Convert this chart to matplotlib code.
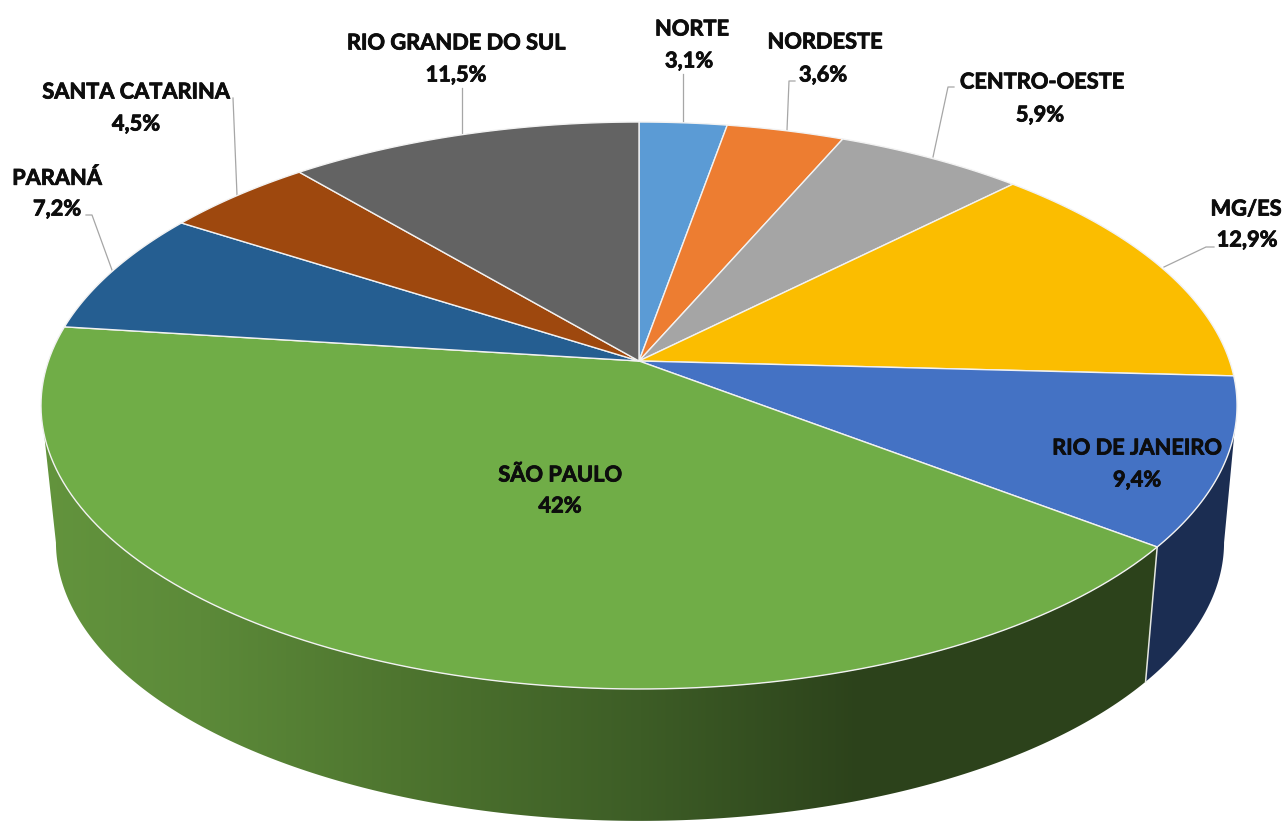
import numpy as np
import matplotlib
matplotlib.use("Agg")
import matplotlib.pyplot as plt
import matplotlib.patheffects as pe
from matplotlib.patches import Polygon
plt.rcParams['font.family'] = ['Lato', 'DejaVu Sans']

regions = ["NORTE", "NORDESTE", "CENTRO-OESTE", "MG/ES", "RIO DE JANEIRO",
           "SÃO PAULO", "PARANÁ", "SANTA CATARINA", "RIO GRANDE DO SUL"]
printed = ["3,1%", "3,6%", "5,9%", "12,9%", "9,4%", "42%", "7,2%", "4,5%", "11,5%"]
# slice widths as they measure in the picture, a little off the printed labels
shares = [2.76, 3.70, 5.96, 13.43, 9.56, 41.6, 7.1, 4.75, 11.14]
colors = ["#5B9BD5", "#ED7D31", "#A5A5A5", "#FBBD00", "#4472C4",
          "#70AD47", "#255E91", "#9E480E", "#636363"]

# label centres, pixels
name_xy = [(692, 29), (825, 42), (1042, 82), (1246, 209), (1137, 448),
           (560, 475), (57, 178), (136, 92), (456, 43)]
pct_xy = [(689, 61), (823, 75), (1040, 115), (1247, 240), (1137, 480),
          (560, 506), (57, 209), (136, 124), (456, 75)]
leaders = [[(683, 74), (683, 123)],
           [(795, 81), (789, 81), (787, 130)],
           [(954, 87), (948, 87), (933, 157)],
           [(1214, 247), (1206, 247), (1164, 267)],
           None, None,
           [(86, 215), (92, 215), (112, 270)],
           [(233, 98), (237, 195)],
           [(462, 88), (462, 133)]]


def top_rim(deg):
    # circle seen in perspective, the pie centre is not the ellipse centre
    t = np.radians(deg)
    u, v = np.sin(t), np.cos(t)
    w = 1 + 0.157 * v
    return 639 + 590.6 * u / w, 361 - 276.5 * v / w


def bottom_rim(deg):
    t = np.radians(deg)
    u, v = np.sin(t), np.cos(t)
    w = 1 + 0.155 * v
    return 640 + 577 * u / w, 499 - 272 * v / w


def side_poly(a, b):
    deg = np.linspace(a, b, 200)
    x1, y1 = top_rim(deg)
    x2, y2 = bottom_rim(deg[::-1])
    return np.column_stack([np.r_[x1, x2], np.r_[y1, y2]])


fig = plt.figure(figsize=(12.87, 8.21), dpi=100)
ax = fig.add_axes([0, 0, 1, 1])
ax.set_xlim(0, 1287)
ax.set_ylim(821, 0)
ax.axis("off")

edges = np.r_[0, np.cumsum(shares)] / np.sum(shares) * 360
left_edge = 261
right_edge = 99

# sides, only rio and sao paulo are on the visible part
rio_end = edges[5]
ax.add_patch(Polygon(side_poly(right_edge, rio_end), fc="#1B2D52", ec="none", zorder=1))

grad_x = [40, 200, 400, 640, 860, 1160]
grad_r = [99, 92, 78, 61, 44, 44]
grad_g = [148, 138, 117, 93, 66, 66]
grad_b = [61, 57, 47, 38, 27, 27]
xs = np.arange(0, 1287)
img = np.stack([np.interp(xs, grad_x, grad_r), np.interp(xs, grad_x, grad_g),
                np.interp(xs, grad_x, grad_b)], axis=-1)[None, :, :] / 255
im = ax.imshow(img, extent=(0, 1287, 821, 0), aspect="auto", zorder=1.5)
clip = Polygon(side_poly(rio_end, left_edge), fc="none", ec="none", transform=ax.transData)
ax.add_patch(clip)
im.set_clip_path(clip)
ax.set_xlim(0, 1287)
ax.set_ylim(821, 0)

# white line between the two side faces
ex, ey = top_rim(rio_end)
fx, fy = bottom_rim(rio_end)
ax.plot([ex, fx], [ey, fy], color="#E4E6E0", lw=1.1, zorder=2)

# top face
for i in range(len(shares)):
    deg = np.linspace(edges[i], edges[i + 1], 120)
    x, y = top_rim(deg)
    pts = np.column_stack([np.r_[639, x], np.r_[361, y]])
    ax.add_patch(Polygon(pts, closed=True, fc=colors[i], ec="#F2F2F2", lw=1.0,
                         joinstyle="round", zorder=3))

for line in leaders:
    if line is None:
        continue
    ax.plot([p[0] for p in line], [p[1] for p in line], color="#A6A6A6", lw=0.9, zorder=2.5)

heavy = [pe.withStroke(linewidth=0.6, foreground="#0D0D0D")]
for i in range(len(regions)):
    ax.text(name_xy[i][0], name_xy[i][1], regions[i], ha="center", va="center",
            fontsize=15.7, fontweight="bold", color="#0D0D0D", zorder=5, path_effects=heavy)
    ax.text(pct_xy[i][0], pct_xy[i][1], printed[i], ha="center", va="center",
            fontsize=15.7, fontweight="bold", color="#0D0D0D", zorder=5, path_effects=heavy)

fig.savefig("out.png", dpi=100)
